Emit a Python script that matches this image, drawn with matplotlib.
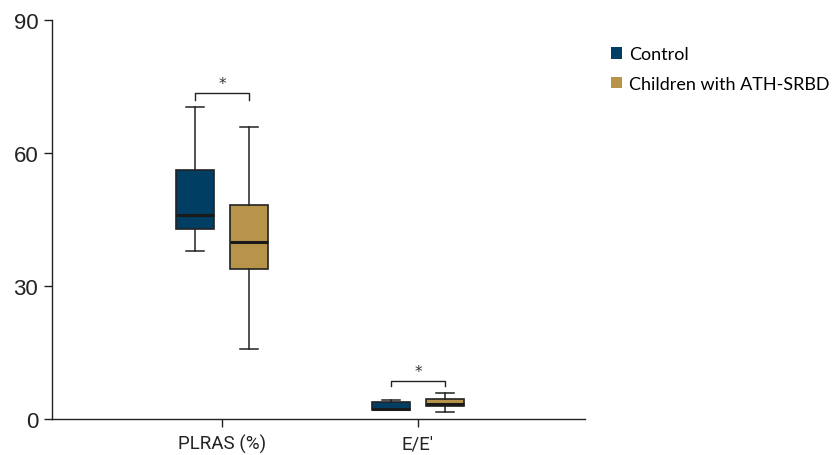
import matplotlib.pyplot as plt
from matplotlib.patches import Patch

# box statistics read per group: whisker low, Q1, median, Q3, whisker high
categories = ['PLRAS (%)', 'E/E′']
groups = ['Control', 'Children with ATH-SRBD']
colors = ['#003f63', '#b8944a']

control_stats = [
    [37.9, 42.9, 46.0, 56.2, 70.4],
    [2.0, 2.0, 2.3, 3.8, 4.4],
]
ath_stats = [
    [15.8, 33.8, 39.9, 48.3, 65.9],
    [1.5, 2.9, 3.5, 4.5, 5.8],
]
# significance brackets: (bar height, tick bottom)
brackets = [(73.5, 72.0), (8.6, 7.4)]

fig = plt.figure(figsize=(8.35, 4.56), dpi=100)
ax = fig.add_axes([0.0623, 0.0789, 0.6383, 0.8751])

offset = 0.138
width = 0.19


def to_bxp(s, label):
    return {'whislo': s[0], 'q1': s[1], 'med': s[2], 'q3': s[3],
            'whishi': s[4], 'label': label, 'fliers': []}


for stats, dx, color in [(control_stats, -offset, colors[0]),
                         (ath_stats, offset, colors[1])]:
    bxp = [to_bxp(s, c) for s, c in zip(stats, categories)]
    ax.bxp(bxp, positions=[i + dx for i in range(len(categories))],
           widths=width, patch_artist=True, showfliers=False,
           capwidths=width * 0.5, manage_ticks=False,
           boxprops=dict(facecolor=color, edgecolor='#222222', linewidth=1.2),
           medianprops=dict(color='#1a1a1a', linewidth=2.2),
           whiskerprops=dict(color='#222222', linewidth=1.1),
           capprops=dict(color='#222222', linewidth=1.1))

for i, (top, low) in enumerate(brackets):
    x0, x1 = i - offset, i + offset
    ax.plot([x0, x0, x1, x1], [low, top, top, low], color='#222222', lw=1.0)
    ax.text(i, top + 0.4, '*', ha='center', va='bottom', fontsize=11,
            color='#333333')

ax.set_xlim(-0.867, 1.852)
ax.set_ylim(0, 90)
ax.set_yticks([0, 30, 60, 90])
ax.set_xticks(range(len(categories)))
ax.set_xticklabels(categories)
ax.spines['top'].set_visible(False)
ax.spines['right'].set_visible(False)
for sp in ['left', 'bottom']:
    ax.spines[sp].set_color('#222222')
    ax.spines[sp].set_linewidth(1.0)
ax.tick_params(direction='out', length=6, width=1.0, color='#222222',
               labelcolor='#222222')
ax.tick_params(axis='x', labelsize=13.5, pad=5)
ax.tick_params(axis='y', labelsize=16, pad=4)
for lbl in ax.get_xticklabels():
    lbl.set_family('Roboto')
for lbl in ax.get_yticklabels():
    lbl.set_family('Liberation Sans')

handles = [Patch(facecolor=c, edgecolor='none', label=g)
           for c, g in zip(colors, groups)]
fig.legend(handles=handles, loc='upper left', bbox_to_anchor=(0.712, 0.932),
           frameon=False, handlelength=0.62, handleheight=0.62,
           handletextpad=0.4, labelspacing=0.75,
           prop={'family': 'Lato', 'size': 13})

fig.savefig('out.png', dpi=100)
